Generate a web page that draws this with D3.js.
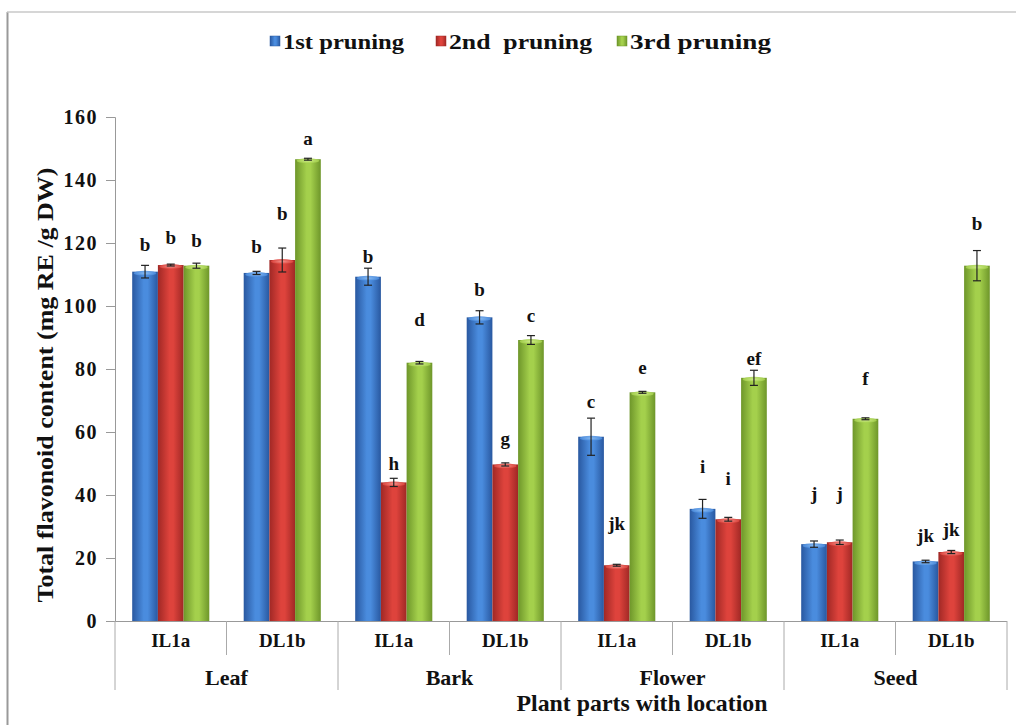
<!DOCTYPE html>
<html><head><meta charset="utf-8">
<script src="https://cdn.jsdelivr.net/npm/d3@7"></script>
<style>body{margin:0;background:#fff}svg{display:block}text{font-family:"Liberation Serif","Times New Roman",serif;font-weight:bold;fill:#111}</style>
</head><body><svg id="c" width="1016" height="725"></svg>
<script>
const groups = ["Leaf","Bark","Flower","Seed"];
const locations = ["IL1a","DL1b"];
const seriesNames = ["1st pruning","2nd  pruning","3rd pruning"];
const yTicks = [0,20,40,60,80,100,120,140,160];
// values per category (Leaf IL1a, Leaf DL1b, Bark IL1a, ...)
const first  = [110.9,110.5,109.3,96.4,58.5,35.6,24.4,18.9];
const second = [113.0,114.6,44.0,49.7,17.7,32.3,25.0,21.9];
const third  = [112.8,146.6,82.0,89.2,72.6,77.2,64.2,112.8];
const firstErr  = [2.0,0.5,2.7,2.1,5.9,3.0,1.0,0.4];
const secondErr = [0.3,3.8,1.3,0.5,0.3,0.6,0.7,0.5];
const thirdErr  = [0.8,0.3,0.4,1.4,0.3,2.4,0.3,4.8];
const firstLetters  = ["b","b","b","b","c","i","j","jk"];
const secondLetters = ["b","b","h","g","jk","i","j","jk"];
const thirdLetters  = ["b","a","d","c","e","ef","f","b"];
const firstLetterAt  = [119.4,119.0,115.7,105.3,69.8,49.0,40.5,27.3];
const secondLetterAt = [121.6,129.4,50.1,58.0,31.0,45.3,40.5,28.9];
const thirdLetterAt  = [120.7,153.2,95.6,97.1,80.4,83.4,77.1,126.3];

const categories = [];
groups.forEach(g => locations.forEach(l => categories.push(g + "|" + l)));
const series = [
  {vals:first, err:firstErr, let:firstLetters, at:firstLetterAt},
  {vals:second, err:secondErr, let:secondLetters, at:secondLetterAt},
  {vals:third, err:thirdErr, let:thirdLetters, at:thirdLetterAt}
];
const colors = [
  {edge:"#2958A0", mid:"#4A8CDE", top:"#8FC0F5"},
  {edge:"#A02825", mid:"#DE433C", top:"#F59A94"},
  {edge:"#6E962A", mid:"#A4D04C", top:"#D2EE8E"}
];

const svg = d3.select("#c");
const L = 115, R = 1007, T = 117, B = 621;
const x = d3.scaleBand().domain(categories).range([L, R]).paddingInner(0).paddingOuter(0);
const y = d3.scaleLinear().domain([0,160]).range([B, T]);
const bw = 25.7;
const xs = d3.scaleBand().domain([0,1,2]).range([0, bw*3]);

// outer frame lines
svg.append("line").attr("x1",7.5).attr("x2",7.5).attr("y1",12).attr("y2",725).attr("stroke","#999").attr("stroke-width",2);
svg.append("line").attr("x1",7).attr("x2",1016).attr("y1",12).attr("y2",12).attr("stroke","#c8c8c8").attr("stroke-width",1.5);

const defs = svg.append("defs");
colors.forEach((c,i) => {
  const g = defs.append("linearGradient").attr("id","g"+i).attr("x1","0").attr("x2","1").attr("y1","0").attr("y2","0");
  g.append("stop").attr("offset","0").attr("stop-color",c.edge);
  g.append("stop").attr("offset","0.45").attr("stop-color",c.mid);
  g.append("stop").attr("offset","0.6").attr("stop-color",c.mid);
  g.append("stop").attr("offset","1").attr("stop-color",c.edge);
  const t = defs.append("radialGradient").attr("id","t"+i);
  t.append("stop").attr("offset","0").attr("stop-color",c.top);
  t.append("stop").attr("offset","1").attr("stop-color",c.mid);
});

// y axis
const yAxis = svg.append("g").attr("transform",`translate(${L},0)`)
  .call(d3.axisLeft(y).tickValues(yTicks).tickSize(9).tickPadding(8));
yAxis.select(".domain").attr("stroke","#999");
yAxis.selectAll(".tick line").attr("stroke","#999");
yAxis.selectAll("text").style("font-size","20px").style("letter-spacing","1.5px").attr("fill","#111");

// bars
const off = (x.bandwidth() - bw*3)/2;
series.forEach((s,i) => {
  const g = svg.append("g");
  categories.forEach((cat,j) => {
    const x0 = x(cat) + off + xs(i);
    const v = s.vals[j];
    g.append("rect").attr("x",x0).attr("y",y(v)).attr("width",bw).attr("height",y(0)-y(v)).attr("fill",`url(#g${i})`);
    g.append("ellipse").attr("cx",x0+bw/2).attr("cy",y(v)+1.5).attr("rx",bw/2-1.5).attr("ry",2.5).attr("fill",`url(#t${i})`).attr("opacity",0.9);
    const cx = x0 + bw/2, e = s.err[j];
    g.append("line").attr("x1",cx).attr("x2",cx).attr("y1",y(v+e)).attr("y2",y(v-e)).attr("stroke","#222").attr("stroke-width",1.2);
    [v+e, v-e].forEach(w => g.append("line").attr("x1",cx-4).attr("x2",cx+4).attr("y1",y(w)).attr("y2",y(w)).attr("stroke","#222").attr("stroke-width",1.2));
    g.append("text").attr("x",cx).attr("y",y(s.at[j])).attr("text-anchor","middle").attr("dominant-baseline","central").style("font-size","19px").text(s.let[j]);
  });
});

// x axis
svg.append("line").attr("x1",L).attr("x2",R).attr("y1",B+0.5).attr("y2",B+0.5).attr("stroke","#999");
categories.forEach((cat,j) => {
  const xl = x(cat);
  const isGroup = j % 2 === 0;
  svg.append("line").attr("x1",xl).attr("x2",xl).attr("y1",B).attr("y2",isGroup?690:655).attr("stroke","#aaa");
  svg.append("text").attr("x",xl + x.bandwidth()/2).attr("y",647).attr("text-anchor","middle").style("font-size","19px").text(cat.split("|")[1]);
});
svg.append("line").attr("x1",R).attr("x2",R).attr("y1",B).attr("y2",690).attr("stroke","#aaa");
groups.forEach((g,k) => {
  const cx = x(g+"|"+locations[0]) + x.bandwidth();
  svg.append("text").attr("x",cx).attr("y",685).attr("text-anchor","middle").style("font-size","22px").text(g);
});
svg.append("text").attr("x",642).attr("y",711).attr("text-anchor","middle").style("font-size","23px").attr("textLength",251).attr("lengthAdjust","spacingAndGlyphs").text("Plant parts with location");
svg.append("text").attr("transform",`translate(53,${(T+B)/2 + 16}) rotate(-90)`).attr("text-anchor","middle").style("font-size","23px").attr("textLength",435).attr("lengthAdjust","spacingAndGlyphs").text("Total flavonoid content (mg RE /g DW)");

// legend
const legX = [270, 436, 617];
const legW = [121, 143, 141];
seriesNames.forEach((n,i) => {
  svg.append("rect").attr("x",legX[i]).attr("y",36).attr("width",10).attr("height",10).attr("fill",`url(#g${i})`).attr("stroke",colors[i].edge).attr("stroke-width",0.5);
  svg.append("text").attr("x",legX[i]+13).attr("y",49).style("font-size","22px").attr("xml:space","preserve").attr("textLength",legW[i]).attr("lengthAdjust","spacingAndGlyphs").text(n);
});
</script></body></html>
